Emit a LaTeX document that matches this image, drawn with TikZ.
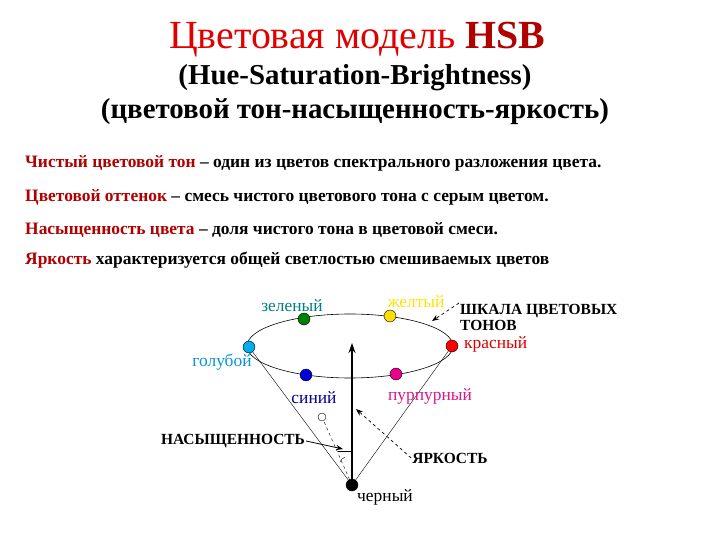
\documentclass[tikz,border=0pt]{standalone}
\usepackage{fontspec}
\setmainfont{Liberation Serif}
\usetikzlibrary{arrows.meta}
\definecolor{dred}{HTML}{B00000}
\definecolor{tred}{HTML}{E00000}
\tikzset{
  dot/.style={circle,draw=black,line width=0.4pt,minimum size=12pt,inner sep=0pt},
  lbl/.style={font=\fontsize{17.5}{18}\selectfont,inner sep=1pt},
  blbl/.style={font=\fontsize{15.5}{16}\bfseries\selectfont,inner sep=1pt},
  line/.style={anchor=west,font=\fontsize{17.5}{18}\bfseries\selectfont,inner sep=0pt},
  dasharrow/.style={dashed,-{Stealth[length=7pt]},line width=0.7pt}
}
\begin{document}
\begin{tikzpicture}[x=1bp,y=-1bp]
\useasboundingbox (0,0) rectangle (720,540);
\node (title) at (357,40) {\fontsize{40}{42}\selectfont\textcolor{tred}{Цветовая модель} \textbf{\textcolor{dred}{HSB}}};
\node (sub1) at (355,78) {\fontsize{29}{30}\bfseries\selectfont (Hue-Saturation-Brightness)};
\node (sub2) at (355,112) {\fontsize{29}{30}\bfseries\selectfont (цветовой тон-насыщенность-яркость)};
\node[line] (l1) at (25,163) {\textcolor{dred}{Чистый цветовой тон} – один из цветов спектрального разложения цвета.};
\node[line] (l2) at (25,197) {\textcolor{dred}{Цветовой оттенок} – смесь чистого цветового тона с серым цветом.};
\node[line] (l3) at (25,230) {\textcolor{dred}{Насыщенность цвета} – доля чистого тона в цветовой смеси.};
\node[line] (l4) at (25,260) {\textcolor{dred}{Яркость} характеризуется общей светлостью смешиваемых цветов};
% cone
\draw[line width=0.6pt] (350,346) ellipse (103 and 32);
\coordinate (apex) at (352,485);
\draw (apex) -- (249,347);
\draw (apex) -- (452,346);
\draw[line width=2pt,-{Stealth[length=10pt,width=7pt]}] (apex) -- (352,343);
\node[circle,draw,inner sep=0pt,minimum size=8pt] (sat) at (322,417) {};
\draw[dashed] (apex) -- (sat);
\coordinate (tk) at (352,451);
\draw (338,451) -- (tk);
\draw (340,462) arc[start angle=200,end angle=250,radius=8];
% dots
\node[dot,fill=green!50!black] (g) at (304,319) {};
\node[dot,fill=yellow!80!orange] (y) at (390,316) {};
\node[dot,fill=cyan] (c) at (249,347) {};
\node[dot,fill=red] (r) at (452,346) {};
\node[dot,fill=blue!85!black] (b) at (306,375) {};
\node[dot,fill=magenta] (m) at (396,374) {};
\node[dot,fill=black] (k) at (apex) {};
% labels
\node[lbl,text=teal] (gl) at (292,306) {зеленый};
\node[lbl,text=yellow!85!orange] (yl) at (416,302) {желтый};
\node[lbl,text=red!85!black,anchor=west] (rl) at (463,344) {красный};
\node[lbl,text=cyan!80!blue] (cl) at (222,362) {голубой};
\node[lbl,text=blue!60!black] (bl) at (314,398) {синий};
\node[lbl,text=magenta!90!black] (ml) at (430,396) {пурпурный};
\node[lbl] (kl) at (385,497) {черный};
\node[blbl,anchor=west,align=left] (hs) at (459,317) {ШКАЛА ЦВЕТОВЫХ\\ТОНОВ};
\node[blbl] (sl) at (233,441) {НАСЫЩЕННОСТЬ};
\node[blbl] (brl) at (450,458) {ЯРКОСТЬ};
% arrows
\draw[dasharrow] (hs.west |- 303,303) -- (432,321);
\draw[line width=0.8pt,-{Stealth[length=7pt]}] (sl.east) -- (343,449);
\draw[dasharrow] (brl.west) -- (356,409);
\end{tikzpicture}
\end{document}
